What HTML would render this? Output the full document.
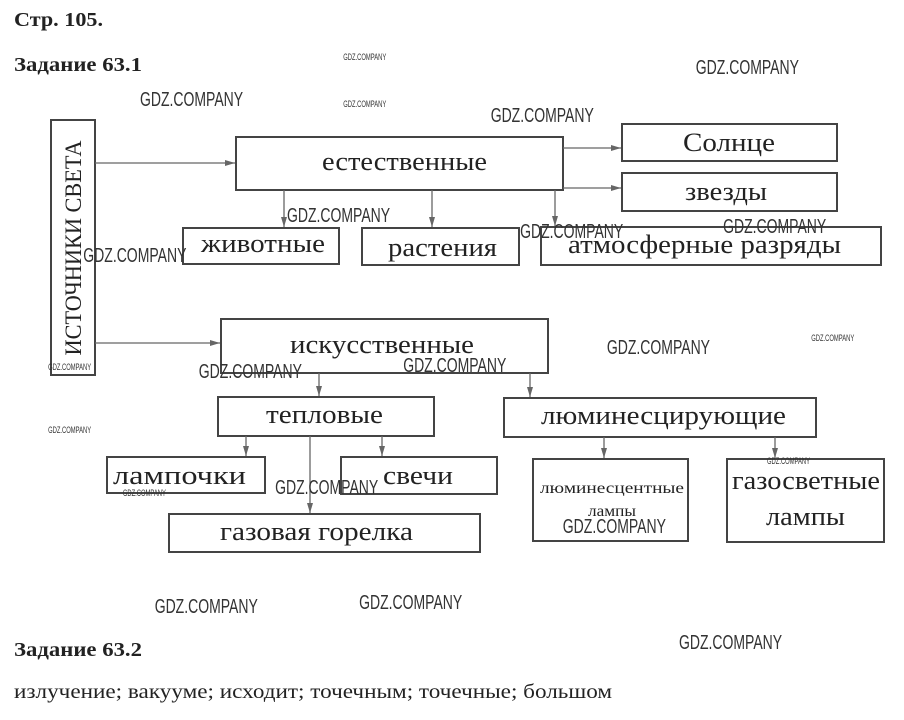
<!DOCTYPE html>
<html><head><meta charset="utf-8"><style>
body{margin:0;background:#fff;width:904px;height:720px;overflow:hidden}
svg{display:block}
.t{font-family:"Liberation Serif",serif;fill:#222}
.w{font-family:"Liberation Sans",sans-serif;fill:#333}
rect{fill:none;stroke:#444;stroke-width:2}
line{stroke:#666;stroke-width:1.3}
</style></head><body>
<svg width="904" height="720" viewBox="0 0 904 720">
<defs><marker id="a" viewBox="0 0 10 6" refX="10" refY="3" markerWidth="10" markerHeight="6" orient="auto" markerUnits="userSpaceOnUse"><path d="M0,0L10,3L0,6z" fill="#666"/></marker></defs>
<text class="t" x="14" y="26" font-size="20" font-weight="bold" textLength="89" lengthAdjust="spacingAndGlyphs">Стр. 105.</text>
<text class="t" x="14" y="71" font-size="20" font-weight="bold" textLength="128" lengthAdjust="spacingAndGlyphs">Задание 63.1</text>
<text class="t" x="14" y="656" font-size="20" font-weight="bold" textLength="128" lengthAdjust="spacingAndGlyphs">Задание 63.2</text>
<text class="t" x="14" y="698" font-size="20" textLength="598" lengthAdjust="spacingAndGlyphs">излучение; вакууме; исходит; точечным; точечные; большом</text>

<rect x="51" y="120" width="44" height="255"/>
<text class="t" font-size="23" text-anchor="middle" transform="translate(81,248) rotate(-90)" textLength="215" lengthAdjust="spacingAndGlyphs">ИСТОЧНИКИ СВЕТА</text>
<rect x="236" y="137" width="327" height="53"/><text class="t" x="322" y="170" font-size="26" textLength="165" lengthAdjust="spacingAndGlyphs">естественные</text>
<rect x="622" y="124" width="215" height="37"/><text class="t" x="683" y="151" font-size="26" textLength="92" lengthAdjust="spacingAndGlyphs">Солнце</text>
<rect x="622" y="173" width="215" height="38"/><text class="t" x="685" y="200" font-size="26" textLength="82" lengthAdjust="spacingAndGlyphs">звезды</text>
<rect x="183" y="228" width="156" height="36"/><text class="t" x="201" y="252" font-size="26" textLength="124" lengthAdjust="spacingAndGlyphs">животные</text>
<rect x="362" y="228" width="157" height="37"/><text class="t" x="388" y="256" font-size="26" textLength="109" lengthAdjust="spacingAndGlyphs">растения</text>
<rect x="541" y="227" width="340" height="38"/><text class="t" x="568" y="253" font-size="26" textLength="273" lengthAdjust="spacingAndGlyphs">атмосферные разряды</text>
<rect x="221" y="319" width="327" height="54"/><text class="t" x="290" y="353" font-size="26" textLength="184" lengthAdjust="spacingAndGlyphs">искусственные</text>
<rect x="218" y="397" width="216" height="39"/><text class="t" x="266" y="423" font-size="26" textLength="117" lengthAdjust="spacingAndGlyphs">тепловые</text>
<rect x="504" y="398" width="312" height="39"/><text class="t" x="541" y="424" font-size="26" textLength="245" lengthAdjust="spacingAndGlyphs">люминесцирующие</text>
<rect x="107" y="457" width="158" height="36"/><text class="t" x="113" y="484" font-size="26" textLength="133" lengthAdjust="spacingAndGlyphs">лампочки</text>
<rect x="341" y="457" width="156" height="37"/><text class="t" x="383" y="484" font-size="26" textLength="70" lengthAdjust="spacingAndGlyphs">свечи</text>
<rect x="169" y="514" width="311" height="38"/><text class="t" x="220" y="540" font-size="26" textLength="193" lengthAdjust="spacingAndGlyphs">газовая горелка</text>
<rect x="533" y="459" width="155" height="82"/><text class="t" x="540" y="493" font-size="16" textLength="144" lengthAdjust="spacingAndGlyphs">люминесцентные</text><text class="t" x="588" y="516" font-size="16" textLength="48" lengthAdjust="spacingAndGlyphs">лампы</text>
<rect x="727" y="459" width="157" height="83"/><text class="t" x="732" y="489" font-size="26" textLength="148" lengthAdjust="spacingAndGlyphs">газосветные</text><text class="t" x="766" y="525" font-size="26" textLength="79" lengthAdjust="spacingAndGlyphs">лампы</text>

<g marker-end="url(#a)">
<line x1="95" y1="163" x2="235" y2="163"/>
<line x1="95" y1="343" x2="220" y2="343"/>
<line x1="563" y1="148" x2="621" y2="148"/>
<line x1="563" y1="188" x2="621" y2="188"/>
<line x1="284" y1="190" x2="284" y2="227"/>
<line x1="432" y1="190" x2="432" y2="227"/>
<line x1="555" y1="190" x2="555" y2="226"/>
<line x1="319" y1="373" x2="319" y2="396"/>
<line x1="530" y1="373" x2="530" y2="397"/>
<line x1="246" y1="436" x2="246" y2="456"/>
<line x1="310" y1="436" x2="310" y2="513"/>
<line x1="382" y1="436" x2="382" y2="456"/>
<line x1="604" y1="437" x2="604" y2="458"/>
<line x1="775" y1="437" x2="775" y2="458"/>
</g>

<g class="w" font-size="20" transform="scale(0.7,1)">
<text x="200" y="106">GDZ.COMPANY</text>
<text x="994" y="74">GDZ.COMPANY</text>
<text x="701" y="122">GDZ.COMPANY</text>
<text x="410" y="222">GDZ.COMPANY</text>
<text x="119" y="262">GDZ.COMPANY</text>
<text x="743" y="238">GDZ.COMPANY</text>
<text x="1033" y="233">GDZ.COMPANY</text>
<text x="867" y="354">GDZ.COMPANY</text>
<text x="284" y="378">GDZ.COMPANY</text>
<text x="576" y="372">GDZ.COMPANY</text>
<text x="393" y="494">GDZ.COMPANY</text>
<text x="804" y="533">GDZ.COMPANY</text>
<text x="221" y="613">GDZ.COMPANY</text>
<text x="513" y="609">GDZ.COMPANY</text>
<text x="970" y="649">GDZ.COMPANY</text>
</g>
<g class="w" font-size="9" transform="scale(0.65,1)">
<text x="528" y="60">GDZ.COMPANY</text>
<text x="528" y="107">GDZ.COMPANY</text>
<text x="74" y="370">GDZ.COMPANY</text>
<text x="74" y="433">GDZ.COMPANY</text>
<text x="1248" y="341">GDZ.COMPANY</text>
<text x="189" y="496">GDZ.COMPANY</text>
<text x="1180" y="464">GDZ.COMPANY</text>
</g>
</svg>
</body></html>
